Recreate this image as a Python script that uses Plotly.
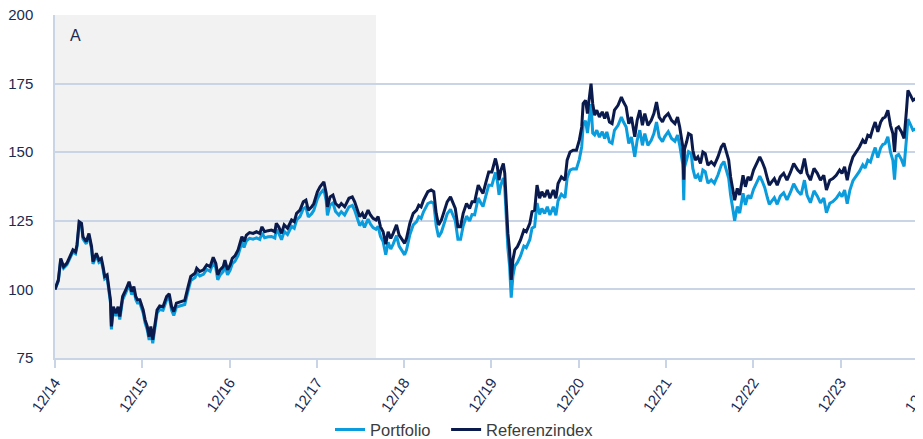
import plotly.graph_objects as go

# ---------------- data ----------------
DATES = [
    # 2015
    "2014-12-31", "2015-01-14", "2015-01-24", "2015-02-05", "2015-02-19", "2015-03-02", "2015-03-16",
    "2015-03-27", "2015-04-02", "2015-04-11", "2015-04-21", "2015-04-27", "2015-05-11", "2015-05-22",
    "2015-06-02", "2015-06-08", "2015-06-22", "2015-07-03", "2015-07-13", "2015-07-20", "2015-07-27",
    "2015-08-06", "2015-08-14", "2015-08-20", "2015-08-24", "2015-09-01", "2015-09-12", "2015-09-21",
    "2015-09-28", "2015-10-10", "2015-10-23", "2015-11-06", "2015-11-17", "2015-11-26", "2015-12-04",
    "2015-12-11", "2015-12-21",
    # 2016
    "2016-01-04", "2016-01-12", "2016-01-21", "2016-01-29", "2016-02-05", "2016-02-13", "2016-02-23",
    "2016-03-02", "2016-03-13", "2016-03-27", "2016-04-11", "2016-04-22", "2016-05-02", "2016-05-11",
    "2016-05-22", "2016-06-06", "2016-06-26", "2016-07-10", "2016-07-21", "2016-08-08", "2016-08-15",
    "2016-08-28", "2016-09-12", "2016-09-26", "2016-10-10", "2016-10-23", "2016-11-03", "2016-11-11",
    "2016-11-21", "2016-12-04", "2016-12-11", "2016-12-22",
    # 2017
    "2017-01-02", "2017-01-11", "2017-01-22", "2017-02-04", "2017-02-13", "2017-02-20", "2017-03-01",
    "2017-03-11", "2017-03-24", "2017-04-08", "2017-04-22", "2017-05-06", "2017-05-15", "2017-05-26",
    "2017-06-10", "2017-06-24", "2017-07-08", "2017-07-14", "2017-07-24", "2017-08-05", "2017-08-16",
    "2017-08-30", "2017-09-16", "2017-09-27", "2017-10-07", "2017-10-21", "2017-11-04", "2017-11-15",
    "2017-11-25", "2017-12-09", "2017-12-18",
    # 2018
    "2018-01-02", "2018-01-13", "2018-01-24", "2018-01-29", "2018-02-08", "2018-02-13", "2018-02-24",
    "2018-03-08", "2018-03-19", "2018-04-02", "2018-04-12", "2018-04-26", "2018-05-14", "2018-05-28",
    "2018-06-07", "2018-06-17", "2018-06-28", "2018-07-09", "2018-07-18", "2018-08-02", "2018-08-12",
    "2018-08-23", "2018-09-04", "2018-09-13", "2018-09-23", "2018-10-04", "2018-10-15", "2018-10-25",
    "2018-11-05", "2018-11-15", "2018-11-29", "2018-12-10", "2018-12-20",
    # 2019
    "2019-01-02", "2019-01-10", "2019-01-24", "2019-02-07", "2019-02-21", "2019-03-02", "2019-03-12",
    "2019-03-22", "2019-04-03", "2019-04-09", "2019-04-23", "2019-05-04", "2019-05-14", "2019-05-24",
    "2019-06-05", "2019-06-15", "2019-06-29", "2019-07-13", "2019-07-23", "2019-08-02", "2019-08-13",
    "2019-08-24", "2019-09-04", "2019-09-18", "2019-10-01", "2019-10-11", "2019-10-22", "2019-11-06",
    "2019-11-17", "2019-11-26", "2019-12-07", "2019-12-20",
    # 2020
    "2020-01-02", "2020-01-08", "2020-01-17", "2020-01-25", "2020-02-01", "2020-02-09", "2020-02-19",
    "2020-02-25", "2020-03-03", "2020-03-09", "2020-03-16", "2020-03-23", "2020-03-30", "2020-04-07",
    "2020-04-18", "2020-05-01", "2020-05-15", "2020-05-25", "2020-06-09", "2020-06-18", "2020-06-29",
    "2020-07-09", "2020-07-20", "2020-07-29", "2020-08-10", "2020-08-21", "2020-09-01", "2020-09-15",
    "2020-09-26", "2020-10-05", "2020-10-19", "2020-11-03", "2020-11-12", "2020-11-24", "2020-12-07",
    "2020-12-21",
    # 2021
    "2021-01-02", "2021-01-12", "2021-01-18", "2021-01-28", "2021-02-05", "2021-02-13", "2021-02-20",
    "2021-02-27", "2021-03-07", "2021-03-16", "2021-03-27", "2021-04-08", "2021-04-18", "2021-04-27",
    "2021-05-08", "2021-05-19", "2021-05-29", "2021-06-13", "2021-06-27", "2021-07-06", "2021-07-17",
    "2021-07-28", "2021-08-08", "2021-08-22", "2021-09-01", "2021-09-12", "2021-09-23", "2021-10-03",
    "2021-10-16", "2021-10-30", "2021-11-10", "2021-11-21", "2021-12-02", "2021-12-16", "2021-12-25",
    # 2022
    "2022-01-09", "2022-01-23", "2022-02-06", "2022-02-17", "2022-02-26", "2022-03-04", "2022-03-11",
    "2022-03-15", "2022-03-18", "2022-03-27", "2022-04-04", "2022-04-15", "2022-04-22", "2022-05-02",
    "2022-05-13", "2022-05-24", "2022-06-03", "2022-06-13", "2022-06-24", "2022-07-08", "2022-07-21",
    "2022-08-05", "2022-08-19", "2022-08-30", "2022-09-10", "2022-09-19", "2022-09-27", "2022-10-07",
    "2022-10-14", "2022-10-25", "2022-11-04", "2022-11-18", "2022-11-28", "2022-12-09", "2022-12-20",
    # 2023
    "2023-01-01", "2023-01-13", "2023-01-27", "2023-02-06", "2023-02-17", "2023-02-28", "2023-03-08",
    "2023-03-18", "2023-03-29", "2023-04-10", "2023-04-23", "2023-05-07", "2023-05-21", "2023-06-05",
    "2023-06-18", "2023-07-05", "2023-07-19", "2023-08-02", "2023-08-13", "2023-08-27", "2023-09-11",
    "2023-09-25", "2023-10-08", "2023-10-22", "2023-11-02", "2023-11-16", "2023-11-29", "2023-12-13",
    "2023-12-27",
    # 2024
    "2024-01-06", "2024-01-17", "2024-01-28", "2024-02-08", "2024-02-21", "2024-03-05", "2024-03-19",
    "2024-04-02", "2024-04-12", "2024-04-23", "2024-05-04", "2024-05-14", "2024-05-24", "2024-06-04",
    "2024-06-16", "2024-06-25", "2024-07-05", "2024-07-16", "2024-07-27", "2024-08-06", "2024-08-13",
    "2024-08-20", "2024-08-30", "2024-09-11", "2024-09-22", "2024-10-02", "2024-10-08", "2024-10-19",
    "2024-10-29", "2024-11-09", "2024-11-19", "2024-12-01", "2024-12-09",
]

REFERENZINDEX = [
    # 2015
    100.0, 103.5, 111.3, 108.3, 109.6, 111.9, 114.4, 113.7, 116.2, 124.7, 124.1, 119.2, 117.4, 120.4,
    115.6, 110.1, 113.2, 110.7, 111.3, 108.3, 104.7, 105.3, 100.4, 96.2, 86.5, 93.7, 91.3, 93.7,
    90.1, 97.4, 99.8, 102.8, 99.2, 101.0, 97.4, 96.2, 96.2,
    # 2016
    92.5, 88.9, 86.5, 82.8, 86.5, 81.6, 87.7, 92.5, 94.0, 93.7, 97.4, 98.4, 93.7, 91.9,
    95.0, 95.5, 96.0, 101.0, 104.7, 105.9, 107.7, 106.5, 107.1, 108.9, 108.3, 111.7, 109.5, 105.3,
    107.1, 108.3, 110.7, 107.1,
    # 2017
    108.9, 111.3, 112.2, 114.4, 117.4, 119.2, 117.4, 119.8, 120.7, 120.4, 121.0, 120.4, 122.8, 121.0,
    121.4, 121.6, 121.0, 124.1, 122.8, 120.4, 123.5, 122.3, 125.3, 124.7, 127.7, 128.9, 131.9, 132.5,
    128.9, 130.1, 131.3,
    # 2018
    135.6, 137.4, 138.6, 139.2, 135.0, 130.1, 133.7, 134.4, 131.3, 130.1, 131.3, 130.1, 133.2, 133.7,
    131.9, 128.9, 126.5, 127.7, 125.9, 128.9, 127.1, 125.9, 125.3, 126.5, 122.8, 121.0, 116.5, 121.0,
    118.6, 120.4, 123.5, 119.8, 118.6,
    # 2019
    116.8, 118.6, 124.1, 127.7, 128.9, 130.7, 130.1, 132.5, 135.0, 135.6, 136.2, 135.6, 127.7, 123.5,
    125.3, 128.3, 131.9, 133.7, 131.9, 129.5, 122.8, 122.8, 127.7, 131.3, 129.5, 131.9, 131.9, 138.0,
    136.2, 135.0, 138.6, 142.8,
    # 2020
    142.8, 144.7, 147.7, 144.7, 139.8, 143.5, 145.9, 142.3, 130.1, 120.4, 114.4, 103.5, 110.7, 114.4,
    115.6, 118.0, 121.6, 121.0, 124.1, 128.3, 128.9, 138.0, 133.2, 135.6, 133.7, 136.2, 133.2, 136.2,
    133.2, 138.6, 141.0, 139.8, 147.1, 150.1, 150.7, 150.7,
    # 2021
    154.4, 159.2, 167.7, 168.9, 164.1, 170.1, 175.0, 167.7, 163.5, 165.3, 162.8, 164.7, 162.3, 164.7,
    161.0, 160.4, 165.3, 167.1, 170.1, 168.3, 166.5, 160.4, 162.8, 155.6, 161.6, 165.3, 159.8, 164.1,
    159.8, 161.6, 164.1, 168.3, 162.8, 161.0, 162.8,
    # 2022
    164.1, 161.6, 160.4, 162.8, 159.2, 155.6, 152.0, 140.0, 151.0, 153.8, 156.8, 156.2, 150.7, 147.1,
    148.3, 145.9, 150.1, 149.5, 145.3, 146.5, 145.3, 148.3, 151.9, 153.2, 149.5, 147.1, 141.0, 136.2,
    132.5, 136.8, 134.4, 141.6, 137.4, 141.0, 139.8,
    # 2023
    143.5, 145.9, 148.3, 146.5, 144.1, 140.4, 138.0, 139.2, 140.4, 138.0, 141.0, 142.3, 139.8, 142.8,
    145.9, 143.5, 142.3, 147.7, 142.3, 139.8, 144.1, 142.3, 139.8, 141.6, 136.2, 139.8, 140.4, 141.6,
    143.5,
    # 2024
    142.3, 144.7, 139.8, 144.7, 148.3, 150.1, 151.9, 154.4, 153.2, 156.2, 155.6, 158.6, 161.0, 157.4,
    161.0, 162.3, 162.8, 165.3, 159.8, 156.8, 150.1, 158.6, 159.2, 157.4, 155.0, 165.3, 172.5, 170.7,
    168.9, 169.5, 167.1, 167.7, 165.3,
]

PORTFOLIO = [
    # 2015
    100.0, 103.0, 110.7, 107.7, 109.0, 111.2, 113.7, 113.0, 115.5, 123.9, 123.3, 118.4, 116.6, 119.6,
    114.8, 109.3, 112.3, 109.8, 110.4, 107.4, 103.8, 104.4, 99.5, 95.2, 85.4, 92.7, 90.3, 92.7,
    89.0, 96.3, 98.7, 101.7, 98.1, 99.9, 96.3, 95.0, 95.0,
    # 2016
    91.4, 87.8, 85.3, 81.6, 85.3, 80.4, 86.5, 91.3, 92.7, 92.4, 96.1, 97.1, 92.4, 90.5,
    93.6, 94.1, 94.5, 99.5, 103.2, 104.3, 106.1, 104.9, 105.5, 107.3, 106.6, 110.0, 107.8, 103.5,
    105.3, 106.5, 108.9, 105.3,
    # 2017
    107.0, 109.4, 110.2, 112.4, 115.4, 117.2, 115.3, 117.7, 118.6, 118.3, 118.8, 118.2, 120.6, 118.8,
    119.2, 119.3, 118.7, 121.8, 120.5, 118.1, 121.2, 120.0, 123.0, 122.3, 125.3, 126.5, 129.4, 130.0,
    126.4, 127.6, 128.8,
    # 2018
    133.0, 134.8, 136.0, 136.5, 132.2, 127.0, 130.8, 131.5, 128.4, 127.1, 128.3, 127.1, 130.1, 130.6,
    128.8, 125.8, 123.3, 124.5, 122.6, 125.6, 123.8, 122.5, 121.9, 123.0, 119.3, 117.4, 112.6, 117.2,
    114.7, 116.5, 119.6, 115.8, 114.6,
    # 2019
    112.6, 114.4, 120.0, 123.5, 124.7, 126.5, 125.9, 128.3, 130.7, 131.3, 131.9, 131.3, 123.3, 119.1,
    120.9, 123.9, 127.5, 129.2, 127.4, 125.0, 118.3, 118.3, 123.1, 126.7, 124.9, 127.3, 127.2, 133.3,
    131.5, 130.2, 133.8, 138.0,
    # 2020
    137.9, 139.7, 142.6, 139.5, 134.5, 138.2, 140.6, 137.0, 124.8, 115.0, 108.8, 97.0, 104.8, 108.5,
    109.8, 112.2, 115.8, 115.2, 118.2, 122.3, 122.9, 131.5, 127.3, 129.5, 127.7, 130.1, 127.1, 130.1,
    127.0, 132.3, 134.7, 133.4, 140.6, 143.5, 144.0, 143.9,
    # 2021
    147.4, 152.0, 159.8, 161.5, 157.0, 162.8, 167.5, 157.0, 156.3, 158.0, 155.5, 157.5, 155.0, 157.4,
    153.8, 153.2, 158.0, 159.8, 162.8, 161.0, 159.2, 153.2, 155.5, 148.3, 154.3, 158.0, 152.5, 156.8,
    152.5, 154.3, 156.8, 161.0, 155.6, 153.8, 155.6,
    # 2022
    157.5, 155.0, 154.0, 156.2, 152.6, 149.0, 145.5, 132.5, 144.5, 147.2, 150.2, 149.6, 144.1, 140.5,
    141.7, 139.3, 143.5, 142.9, 138.7, 139.9, 138.7, 141.7, 145.3, 146.6, 142.9, 140.5, 134.4, 129.6,
    125.0, 130.2, 127.8, 135.0, 130.8, 134.3, 133.1,
    # 2023
    136.5, 138.9, 141.3, 139.5, 137.1, 133.4, 131.0, 132.2, 133.4, 131.0, 134.0, 135.2, 132.6, 135.5,
    138.5, 135.8, 134.5, 139.8, 134.3, 131.6, 135.9, 134.0, 131.5, 133.3, 127.9, 131.4, 132.0, 133.2,
    135.0,
    # 2024
    133.8, 136.2, 131.2, 136.1, 139.6, 141.3, 143.0, 145.4, 144.2, 147.1, 146.4, 149.3, 151.7, 148.0,
    151.6, 152.8, 153.2, 155.6, 150.0, 147.0, 140.0, 148.6, 149.2, 147.3, 144.8, 155.0, 162.0, 160.0,
    158.0, 158.5, 156.2, 156.7, 155.0,
]

SERIES_NAMES = ["Portfolio", "Referenzindex"]
TICK_DATES = ["2014-12-31", "2015-12-31", "2016-12-31", "2017-12-31", "2018-12-31",
              "2019-12-31", "2020-12-31", "2021-12-31", "2022-12-31", "2023-12-31", "2024-12-31"]
TICK_LABELS = ["12/14", "12/15", "12/16", "12/17", "12/18", "12/19", "12/20", "12/21", "12/22", "12/23", "12/24"]
Y_TICKS = [75, 100, 125, 150, 175, 200]
SHADE_START, SHADE_END, SHADE_LABEL = "2014-12-31", "2018-09-04", "A"
X_RANGE = ["2014-12-31", "2024-12-31"]

assert len(DATES) == len(REFERENZINDEX) == len(PORTFOLIO)

# ---------------- styling ----------------
FONT = "Liberation Sans, Arial, Helvetica, sans-serif"
NAVY = "#0b1a4c"
BLUE = "#0a9cdc"
GRID = "#c9d4e7"
TEXT = "#1b2a50"
LEG_FONT = dict(family=FONT, size=16.5, color="#3c3c3c")

fig = go.Figure()
fig.add_trace(go.Scatter(x=DATES, y=PORTFOLIO, name=SERIES_NAMES[0], mode="lines",
                         line=dict(color=BLUE, width=3), legend="legend"))
fig.add_trace(go.Scatter(x=DATES, y=REFERENZINDEX, name=SERIES_NAMES[1], mode="lines",
                         line=dict(color=NAVY, width=3), legend="legend2"))

fig.add_shape(type="rect", xref="x", yref="paper", x0=SHADE_START, x1=SHADE_END, y0=0, y1=1,
              fillcolor="#f2f2f2", line=dict(width=0), layer="below")
fig.add_annotation(text=SHADE_LABEL, xref="paper", yref="paper", x=0.023, y=0.94,
                   xanchor="center", yanchor="middle", showarrow=False,
                   font=dict(family=FONT, size=16, color=TEXT))

fig.update_layout(
    width=920, height=431,
    margin=dict(l=47, r=0, t=6.5, b=81, autoexpand=False),
    paper_bgcolor="white", plot_bgcolor="white",
    font=dict(family=FONT, size=15, color=TEXT),
    showlegend=True,
    legend=dict(orientation="h", x=0.315, xanchor="left", y=-0.209, yanchor="middle",
                font=LEG_FONT, bgcolor="rgba(0,0,0,0)"),
    legend2=dict(orientation="h", x=0.448, xanchor="left", y=-0.209, yanchor="middle",
                 font=LEG_FONT, bgcolor="rgba(0,0,0,0)"),
    xaxis=dict(type="date", range=X_RANGE, tickvals=TICK_DATES, ticktext=TICK_LABELS,
               tickangle=-55, ticks="outside", ticklen=8, tickwidth=1.5, tickcolor=GRID,
               showgrid=False, zeroline=False, showline=True, linecolor=GRID, linewidth=1.5,
               ticklabeloverflow="allow",
               tickfont=dict(family=FONT, size=15, color=TEXT), automargin=False),
    yaxis=dict(range=[75, 200], tickvals=Y_TICKS, showgrid=True, gridcolor=GRID, gridwidth=1.5,
               zeroline=False, showline=True, linecolor=GRID, linewidth=1.5, ticks="",
               ticklabelstandoff=17, ticklabeloverflow="allow",
               tickfont=dict(family=FONT, size=15, color=TEXT), automargin=False),
)

fig.write_html("out.html")
